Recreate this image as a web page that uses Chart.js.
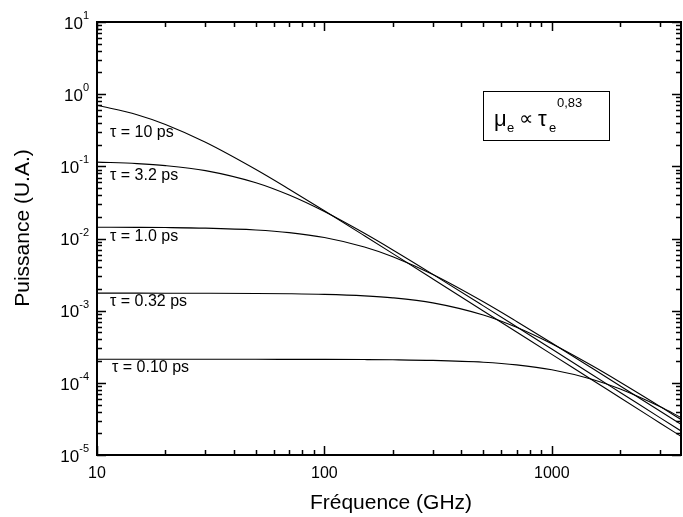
<!DOCTYPE html>
<html>
<head>
<meta charset="utf-8">
<script src="https://cdn.jsdelivr.net/npm/chart.js@4/dist/chart.umd.min.js"></script>
<style>
  html, body { margin: 0; padding: 0; background: #fff; }
  #wrap { width: 683px; height: 517px; }
</style>
</head>
<body>
<div id="wrap"><canvas id="c" width="683" height="517"></canvas></div>
<script>
const frequencies = [10, 15, 20, 30, 50, 70, 100, 150, 200, 300, 500, 700, 1000, 1500, 2000, 3000, 3700];
// Power (arb. units) per relaxation time
const tau10  = [0.7026, 0.519, 0.380, 0.2152, 0.0902, 0.04816, 0.02421, 0.01091, 0.006167, 0.002750, 0.000992, 0.0005063, 0.0002482, 0.0001103, 0.00006206, 0.00002758, 0.00001813];
const tau32  = [0.1144, 0.1091, 0.1024, 0.08726, 0.05918, 0.03992, 0.02360, 0.01179, 0.006931, 0.003183, 0.001166, 0.0005977, 0.0002936, 0.0001307, 0.00007354, 0.00003270, 0.00002150];
const tau1   = [0.01434, 0.01427, 0.01418, 0.01391, 0.01311, 0.01207, 0.01032, 0.007626, 0.005583, 0.003163, 0.001325, 0.0007079, 0.0003557, 0.0001603, 0.00009062, 0.00004042, 0.00002659];
const tau032 = [0.001749, 0.001748, 0.001747, 0.001744, 0.001733, 0.001716, 0.001682, 0.001604, 0.001506, 0.001283, 0.0008703, 0.0005870, 0.0003470, 0.0001733, 0.0001019, 0.00004682, 0.00003106];
const tau010 = [0.0002120, 0.0002120, 0.0002119, 0.0002119, 0.0002118, 0.0002116, 0.0002112, 0.0002101, 0.0002087, 0.0002047, 0.0001930, 0.0001776, 0.0001520, 0.0001123, 0.00008220, 0.00004656, 0.00003310];
const seriesLabels = ['τ = 10 ps', 'τ = 3.2 ps', 'τ = 1.0 ps', 'τ = 0.32 ps', 'τ = 0.10 ps'];
// Axis tick labels
const xTickLabels = [10, 100, 1000];
const yTickExponents = [1, 0, -1, -2, -3, -4, -5];
const xMin = 10, xMax = 3700, yMin = 1e-5, yMax = 10;

const allSeries = [tau10, tau32, tau1, tau032, tau010];
const datasets = allSeries.map((vals, i) => ({
  label: seriesLabels[i],
  data: frequencies.map((f, k) => ({ x: f, y: vals[k] })),
  borderColor: '#000',
  borderWidth: 1.1,
  pointRadius: 0,
  fill: false,
  cubicInterpolationMode: 'monotone'
}));

const FONT = "'Liberation Sans', Arial, Helvetica, sans-serif";

const decor = {
  id: 'decor',
  afterDraw(chart) {
    const ctx = chart.ctx, a = chart.chartArea;
    const xs = chart.scales.x, ys = chart.scales.y;
    ctx.save();
    ctx.strokeStyle = '#000';
    ctx.fillStyle = '#000';
    // frame
    ctx.lineWidth = 2;
    ctx.strokeRect(a.left, a.top, a.right - a.left, a.bottom - a.top);
    // ticks
    ctx.lineWidth = 1.5;
    ctx.beginPath();
    for (let e = 1; e <= 3; e++) {
      for (let m = 1; m <= 9; m++) {
        const v = m * Math.pow(10, e);
        if (v < xMin || v > xMax) continue;
        const px = Math.round(xs.getPixelForValue(v)) + 0.5;
        const len = m === 1 ? 9 : 5;
        ctx.moveTo(px, a.bottom); ctx.lineTo(px, a.bottom - len);
        ctx.moveTo(px, a.top); ctx.lineTo(px, a.top + len);
      }
    }
    for (let e = -5; e <= 1; e++) {
      for (let m = 1; m <= 9; m++) {
        const v = m * Math.pow(10, e);
        if (v < yMin * 0.999 || v > yMax * 1.001) continue;
        const py = Math.round(ys.getPixelForValue(v)) + 0.5;
        const len = m === 1 ? 9 : 5;
        ctx.moveTo(a.left, py); ctx.lineTo(a.left + len, py);
        ctx.moveTo(a.right, py); ctx.lineTo(a.right - len, py);
      }
    }
    ctx.stroke();

    // y tick labels 10^n
    ctx.textBaseline = 'middle';
    yTickExponents.forEach(n => {
      const py = ys.getPixelForValue(Math.pow(10, n));
      ctx.font = '17px ' + FONT;
      const w1 = ctx.measureText('10').width;
      ctx.font = '11px ' + FONT;
      const ex = String(n);
      const w2 = ctx.measureText(ex).width;
      const right = 89;
      ctx.textAlign = 'left';
      ctx.font = '17px ' + FONT;
      ctx.fillText('10', right - w2 - w1, py + 2);
      ctx.font = '11px ' + FONT;
      ctx.fillText(ex, right - w2, py - 6);
    });
    // x tick labels
    ctx.font = '16px ' + FONT;
    ctx.textAlign = 'center';
    xTickLabels.forEach(v => {
      ctx.fillText(String(v), xs.getPixelForValue(v), 474);
    });
    // axis titles
    ctx.font = '21px ' + FONT;
    ctx.fillText('Fréquence (GHz)', (a.left + a.right) / 2 + 2, 503);
    ctx.save();
    ctx.translate(23, 228);
    ctx.rotate(-Math.PI / 2);
    ctx.fillText('Puissance (U.A.)', 0, 0);
    ctx.restore();

    // curve labels
    ctx.font = '16px ' + FONT;
    ctx.textAlign = 'left';
    const labelPos = [[110, 133], [110, 176], [110, 237], [110, 302], [112, 368]];
    seriesLabels.forEach((t, i) => ctx.fillText(t, labelPos[i][0], labelPos[i][1]));

    // annotation box
    ctx.lineWidth = 1;
    ctx.strokeRect(483.5, 91.5, 126, 49);
    ctx.textBaseline = 'alphabetic';
    ctx.font = '22px ' + FONT;
    ctx.fillText('μ', 494, 126);
    ctx.font = '13px ' + FONT;
    ctx.fillText('e', 507, 132);
    ctx.font = '20px ' + FONT;
    ctx.fillText('∝', 519, 125);
    ctx.font = '22px ' + FONT;
    ctx.fillText('τ', 538, 126);
    ctx.font = '13px ' + FONT;
    ctx.fillText('e', 549, 132);
    ctx.fillText('0,83', 557, 107);
    ctx.restore();
  }
};

new Chart(document.getElementById('c'), {
  type: 'line',
  data: { datasets },
  options: {
    responsive: false,
    animation: false,
    layout: { padding: { left: 97, right: 2, top: 22, bottom: 62 } },
    plugins: { legend: { display: false }, tooltip: { enabled: false } },
    scales: {
      x: { type: 'logarithmic', min: xMin, max: xMax, display: false },
      y: { type: 'logarithmic', min: yMin, max: yMax, display: false }
    }
  },
  plugins: [decor]
});
</script>
</body>
</html>
